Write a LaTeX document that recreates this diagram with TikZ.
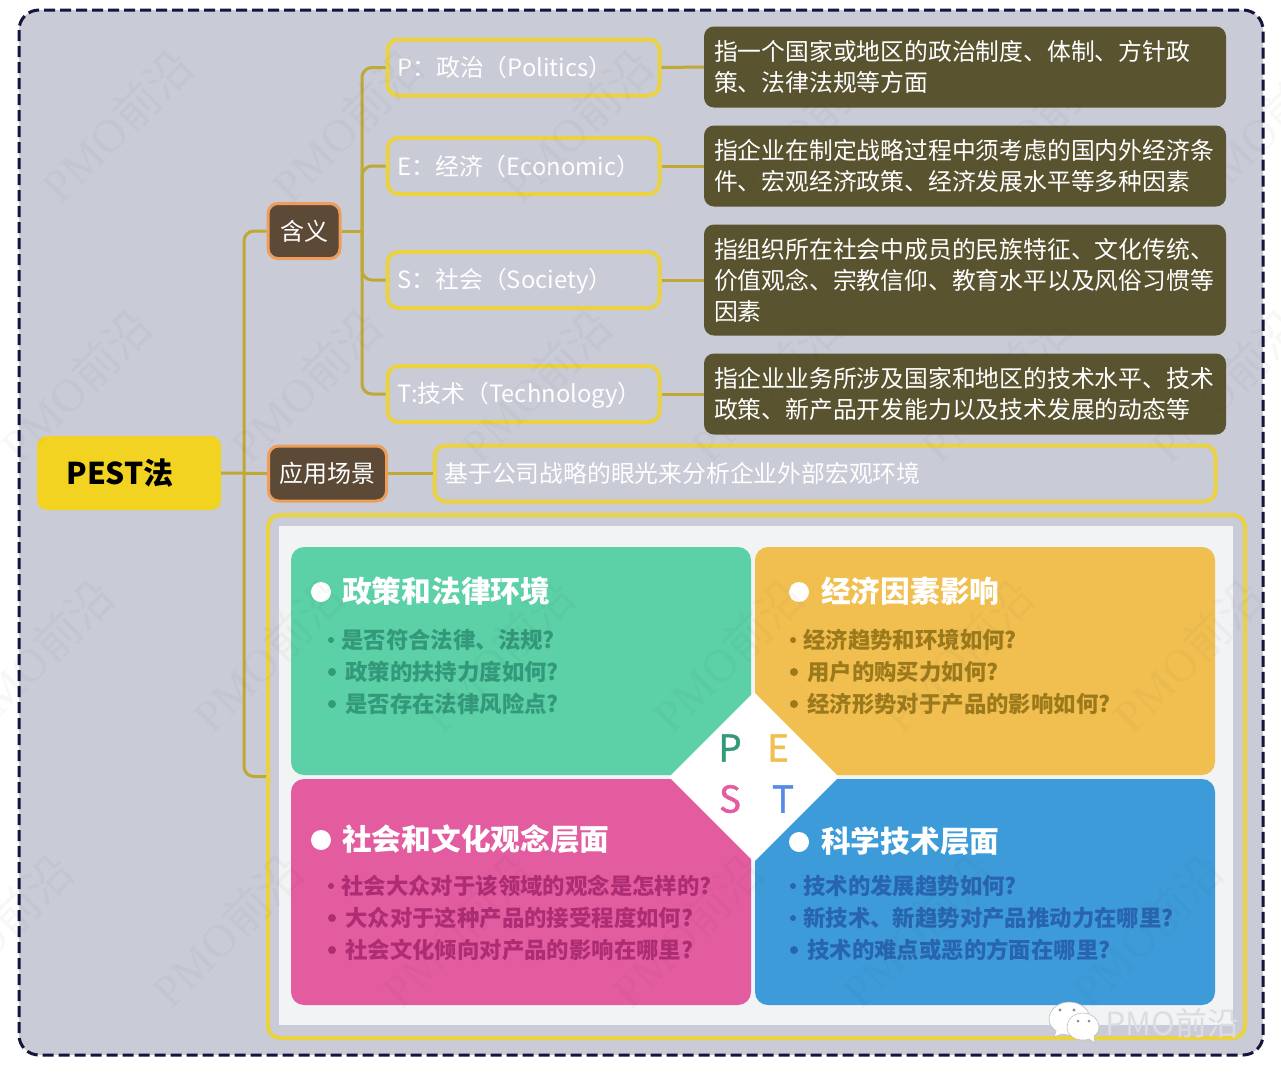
\documentclass[tikz,border=0pt]{standalone}
\usepackage{fontspec}
\setmainfont{Noto Sans CJK SC}
\newfontfamily\wmfont{Liberation Serif}
\newfontfamily\pestfont[FakeBold=1.2]{Noto Sans CJK SC}
\usetikzlibrary{shapes.geometric}

\definecolor{frameblue}{HTML}{14143C}
\definecolor{framegrey}{HTML}{C9CBD6}
\definecolor{linkgold}{HTML}{BFA835}
\definecolor{boxyellow}{HTML}{EAD243}
\definecolor{rootyellow}{HTML}{F3D321}
\definecolor{tagbrown}{HTML}{5C4A36}
\definecolor{tagorange}{HTML}{EE9E5A}
\definecolor{noteolive}{HTML}{59532F}
\definecolor{panelgrey}{HTML}{F2F3F4}
\definecolor{quadgreen}{HTML}{5CD0A6}
\definecolor{quadyellow}{HTML}{F0BF50}
\definecolor{quadpink}{HTML}{E35C9F}
\definecolor{quadblue}{HTML}{3C9BD8}
\definecolor{itemgreen}{HTML}{33997A}
\definecolor{itemyellow}{HTML}{9C7A1C}
\definecolor{itempink}{HTML}{AE2C74}
\definecolor{itemblue}{HTML}{2964AE}
\definecolor{logogrey}{HTML}{DCDDE3}

\tikzset{
    link/.style={draw=linkgold, line width=3pt, rounded corners=10pt},
    tagbox/.style={draw=tagorange, fill=tagbrown, line width=3pt, rounded corners=10pt, text=white, inner sep=0pt, minimum height=55pt, font=\fontsize{24}{30}\selectfont},
    letterbox/.style={draw=boxyellow, line width=4pt, rounded corners=11pt, text=white, inner xsep=10pt, inner ysep=0pt, minimum height=56pt, align=left, font=\fontsize{23.8}{31}\selectfont, execute at begin node={\rule[-4.5pt]{0pt}{27pt}}},
    notebox/.style={fill=noteolive, rounded corners=10pt, text=white, inner xsep=10pt, inner ysep=0pt, text width=502pt, align=left, font=\fontsize{23.8}{31}\selectfont},
    quad/.style={rounded corners=13pt, minimum width=460pt, inner sep=0pt},
    head/.style={anchor=west, inner sep=0pt, text=white, font=\fontsize{29.7}{34}\bfseries\selectfont},
    item/.style={anchor=west, inner sep=0pt, font=\fontsize{22.4}{28}\bfseries\selectfont},
    headdot/.style={circle, fill=white, minimum size=20pt, inner sep=0pt},
    itemdot/.style={circle, minimum size=8pt, inner sep=0pt},
    pestletter/.style={inner sep=0pt, font=\pestfont\fontsize{37}{40}\selectfont},
    wmark/.style={rotate=45, inner sep=0pt, text=black!75, text opacity=0.04, font=\fontsize{46}{50}\selectfont},
}

\begin{document}
\begin{tikzpicture}[x=1pt,y=-1pt]
    \useasboundingbox (0,0) rectangle (1281,1080);
    \fill[white] (0,0) rectangle (1281,1080);
    \draw[frameblue, fill=framegrey, line width=3pt, rounded corners=20pt, dash pattern=on 11pt off 5pt] (19,10) rectangle (1263,1055);

    % left part of the tree
    \node[fill=rootyellow, rounded corners=10pt, minimum width=184pt, minimum height=74pt, inner sep=0pt, font=\fontsize{30}{34}\bfseries\selectfont] (ROOT) at (129,473) {PEST法\rule{18pt}{0pt}};
    \node[tagbox, minimum width=72pt] (MEAN) at (304,231) {含义};
    \node[tagbox, minimum width=118pt] (USE) at (327.5,473.5) {应用场景};

    \node[letterbox, text width=252pt] (PB) at (523.5,67.5) {P：政治（Politics）};
    \node[letterbox, text width=252pt] (EB) at (523.5,166) {E：经济（Economic）};
    \node[letterbox, text width=252pt] (SB) at (523.5,280) {S：社会（Society）};
    \node[letterbox, text width=252pt] (TB) at (523.5,394) {T:技术（Technology）};

    \node[notebox, minimum height=81pt] (PN) at (965,67) {指一个国家或地区的政治制度、体制、方针政\\策、法律法规等方面};
    \node[notebox, minimum height=81pt] (EN) at (965,166) {指企业在制定战略过程中须考虑的国内外经济条\\件、宏观经济政策、经济发展水平等多种因素};
    \node[notebox, minimum height=111pt] (SN) at (965,280) {指组织所在社会中成员的民族特征、文化传统、\\价值观念、宗教信仰、教育水平以及风俗习惯等\\因素};
    \node[notebox, minimum height=81pt] (TN) at (965,394) {指企业业务所涉及国家和地区的技术水平、技术\\政策、新产品开发能力以及技术发展的动态等};

    \node[letterbox, text width=761pt, inner xsep=10pt] (USET) at (825,473.5) {基于公司战略的眼光来分析企业外部宏观环境};

    % picture box
    \node[draw=boxyellow, line width=4pt, rounded corners=12pt, minimum width=977pt, minimum height=523pt, inner sep=0pt] (PIC) at (756.5,776.5) {};
    \node[fill=panelgrey, minimum width=954pt, minimum height=499pt, inner sep=0pt] (PANEL) at (756,775.5) {};

    \node[quad, fill=quadgreen, minimum height=228pt] (QP) at (521,661) {};
    \node[quad, fill=quadyellow, minimum height=228pt] (QE) at (985,661) {};
    \node[quad, fill=quadpink, minimum height=226pt] (QS) at (521,892) {};
    \node[quad, fill=quadblue, minimum height=226pt] (QT) at (985,892) {};
    \node[diamond, fill=white, minimum width=170pt, minimum height=170pt, inner sep=0pt] (DIA) at (754,777) {};

    \node[pestletter, text=itemgreen] (LP) at (730,748) {P};
    \node[pestletter, text=quadyellow] (LE) at (778,748) {E};
    \node[pestletter, text=quadpink] (LS) at (730,799) {S};
    \node[pestletter, text=quadblue!70!blue!80!white] (LT) at (783,799) {T};

    \node[headdot] (HDP) at (321,592) {};
    \node[head] (HP) at (342,591) {政策和法律环境};
    \node[itemdot, fill=itemgreen, minimum size=6pt] (DP1) at (331,640) {};
    \node[itemdot, fill=itemgreen] (DP2) at (332,672) {};
    \node[itemdot, fill=itemgreen] (DP3) at (332,704) {};
    \node[item, text=itemgreen] (IP1) at (341,640) {是否符合法律、法规?};
    \node[item, text=itemgreen] (IP2) at (345,672) {政策的扶持力度如何?};
    \node[item, text=itemgreen] (IP3) at (345,704) {是否存在法律风险点?};

    \node[headdot] (HDE) at (799,592) {};
    \node[head] (HE) at (821,591) {经济因素影响};
    \node[itemdot, fill=itemyellow, minimum size=6pt] (DE1) at (793,640) {};
    \node[itemdot, fill=itemyellow] (DE2) at (794,672) {};
    \node[itemdot, fill=itemyellow] (DE3) at (794,704) {};
    \node[item, text=itemyellow] (IE1) at (803,640) {经济趋势和环境如何?};
    \node[item, text=itemyellow] (IE2) at (807,672) {用户的购买力如何?};
    \node[item, text=itemyellow] (IE3) at (807,704) {经济形势对于产品的影响如何?};

    \node[headdot] (HDS) at (321,840) {};
    \node[head] (HS) at (342,839) {社会和文化观念层面};
    \node[itemdot, fill=itempink, minimum size=6pt] (DS1) at (331,886) {};
    \node[itemdot, fill=itempink] (DS2) at (332,918) {};
    \node[itemdot, fill=itempink] (DS3) at (332,950) {};
    \node[item, text=itempink] (IS1) at (341,886) {社会大众对于该领域的观念是怎样的?};
    \node[item, text=itempink] (IS2) at (345,918) {大众对于这种产品的接受程度如何?};
    \node[item, text=itempink] (IS3) at (345,950) {社会文化倾向对产品的影响在哪里?};

    \node[headdot] (HDT) at (799,842) {};
    \node[head] (HT) at (821,841) {科学技术层面};
    \node[itemdot, fill=itemblue, minimum size=6pt] (DT1) at (793,886) {};
    \node[itemdot, fill=itemblue, minimum size=6pt] (DT2) at (793,918) {};
    \node[itemdot, fill=itemblue] (DT3) at (794,950) {};
    \node[item, text=itemblue] (IT1) at (803,886) {技术的发展趋势如何?};
    \node[item, text=itemblue] (IT2) at (803,918) {新技术、新趋势对产品推动力在哪里?};
    \node[item, text=itemblue] (IT3) at (807,950) {技术的难点或恶的方面在哪里?};

    % connectors
    \coordinate (TR1) at (244,473.5);
    \coordinate (TR2) at (362,231);
    \draw[link] (ROOT.east) -- (USE.west);
    \draw[link] (TR1) |- (MEAN.west);
    \draw[link] (TR1) |- (PIC.west);
    \draw[link] (MEAN.east) -- (TR2);
    \draw[link] (TR2) |- (PB.west);
    \draw[link] (TR2) |- (EB.west);
    \draw[link] (TR2) |- (SB.west);
    \draw[link] (TR2) |- (TB.west);
    \draw[link] (PB.east) -- (PN.west);
    \draw[link] (EB.east) -- (EN.west);
    \draw[link] (SB.east) -- (SN.west);
    \draw[link] (TB.east) -- (TN.west);
    \draw[link] (USE.east) -- (USET.west);

    % watermark
    \foreach \wy/\wx [count=\r] in {125/117, 385/76, 655/38, 930/-3}
        \foreach \c in {0,...,5}
            \node[wmark] (WM\r\c) at ({\wx+230*\c},\wy) {{\wmfont PMO}前沿};

    % logo at the bottom
    \fill[white, draw=black!25, line width=.6pt] (1069,1002) .. controls (1058,1002) and (1049,1010) .. (1049,1019) .. controls (1049,1024) and (1052,1028) .. (1056,1031) -- (1054,1037) -- (1062,1034) .. controls (1065,1035) and (1068,1035) .. (1071,1035) .. controls (1083,1035) and (1090,1027) .. (1090,1019) .. controls (1090,1010) and (1081,1002) .. (1069,1002) -- cycle;
    \fill[white, draw=black!25, line width=.6pt] (1083,1013) .. controls (1073,1013) and (1067,1020) .. (1067,1027) .. controls (1067,1035) and (1074,1040) .. (1083,1040) .. controls (1085,1040) and (1087,1040) .. (1089,1039) -- (1095,1043) -- (1094,1036) .. controls (1097,1034) and (1099,1031) .. (1099,1027) .. controls (1099,1020) and (1092,1013) .. (1083,1013) -- cycle;
    \fill[black!45] (1060,1010) circle (1.6pt) (1074,1010) circle (1.6pt) (1078,1021) circle (1.5pt) (1089,1021) circle (1.5pt);
    \node[inner sep=0pt, anchor=west, text=logogrey, font=\fontsize{32}{36}\selectfont] (LOGO) at (1105,1023) {PMO前沿};
\end{tikzpicture}
\end{document}
